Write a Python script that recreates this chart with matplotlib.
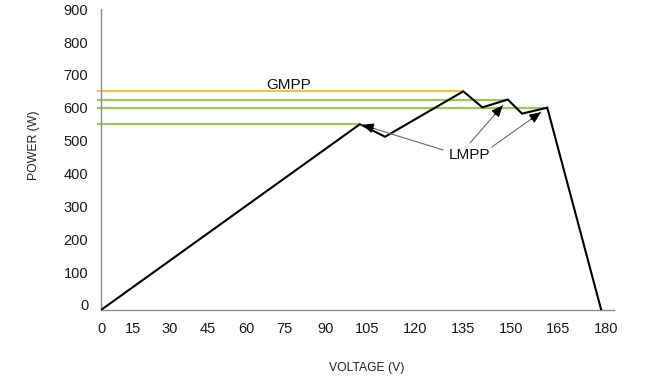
import numpy as np
import matplotlib
matplotlib.use("Agg")
import matplotlib.pyplot as plt
import matplotlib.transforms as mtransforms

plt.rcParams['font.family'] = ['Liberation Sans', 'DejaVu Sans']

# ---------------- data ----------------
VOLTAGE = [0, 102.5, 110.7, 135, 141, 149, 153.5, 161.5, 178.5]
POWER = [0, 550, 512, 650, 601, 625, 582, 600, 0]
GMPP_V, GMPP_P = 135, 650
LMPP_V = [102.5, 149, 161.5]
LMPP_P = [550, 625, 600]
X_TICKS = [0, 15, 30, 45, 60, 75, 90, 105, 120, 135, 150, 165, 180]
Y_TICKS = [0, 100, 200, 300, 400, 500, 600, 700, 800, 900]

# ------------- layout (pixel positions of the original drawing's ticks) -------------
X_TICK_PX = [101, 132.7, 169.3, 207.7, 246, 284.3, 326, 366.7, 415, 463.3, 511, 558.3, 606]
Y_TICK_PX = [310, 272.7, 239.7, 206.7, 173.7, 140.7, 107.7, 75, 42.3, 9.7]
W, H = 649, 386


def make_interp(xs, ys):
    xs = np.asarray(xs, float)
    ys = np.asarray(ys, float)
    s0 = (ys[1] - ys[0]) / (xs[1] - xs[0])
    s1 = (ys[-1] - ys[-2]) / (xs[-1] - xs[-2])

    def f(v):
        v = np.asarray(v, float)
        out = np.interp(v, xs, ys)
        out = np.where(v < xs[0], ys[0] + (v - xs[0]) * s0, out)
        out = np.where(v > xs[-1], ys[-1] + (v - xs[-1]) * s1, out)
        return out
    return f


xf = make_interp(X_TICKS, X_TICK_PX)
xi = make_interp(X_TICK_PX, X_TICKS)
ypx = [-p for p in Y_TICK_PX]
yf = make_interp(Y_TICKS, ypx)
yi = make_interp(ypx, Y_TICKS)

fig = plt.figure(figsize=(W / 100, H / 100), dpi=100)
left_px, right_px, top_px, bottom_px = 100.7, 614, 9, 310
ax = fig.add_axes([left_px / W, 1 - bottom_px / H,
                   (right_px - left_px) / W, (bottom_px - top_px) / H])
ax.set_xscale('function', functions=(xf, xi))
ax.set_yscale('function', functions=(yf, yi))
ax.set_xlim(float(xi(left_px)), float(xi(right_px)))
ax.set_ylim(0, float(yi(-top_px)))

orange = '#F6C232'
green = '#9CC85A'
line_start = float(xi(97))
ax.plot([line_start, GMPP_V], [GMPP_P, GMPP_P], color=orange, lw=1.5,
        solid_capstyle='butt', zorder=2, clip_on=False)
for v, p in zip(LMPP_V, LMPP_P):
    ax.plot([line_start, v], [p, p], color=green, lw=1.6, solid_capstyle='butt',
            zorder=2, clip_on=False)

ax.plot(VOLTAGE, POWER, color='black', lw=1.5, zorder=3, solid_joinstyle='miter')

ax.set_xticks(X_TICKS)
ax.set_xticklabels([str(t) for t in X_TICKS])
ax.set_yticks(Y_TICKS)
ax.set_yticklabels([str(t) for t in Y_TICKS])
ax.minorticks_off()
ax.tick_params(axis='x', length=0, pad=8.5, labelsize=10.5, labelcolor='#1a1a1a')
ax.tick_params(axis='y', length=0, pad=8.9, labelsize=10.5, labelcolor='#1a1a1a')
for s in ['top', 'right']:
    ax.spines[s].set_visible(False)
for s in ['left', 'bottom']:
    ax.spines[s].set_color('#8c8c8c')
    ax.spines[s].set_linewidth(1.0)

# the "0" label in the original sits a little above the axis line
zero_lbl = ax.get_yticklabels()[0]
zero_lbl.set_transform(zero_lbl.get_transform() +
                       mtransforms.ScaledTranslation(0, 5 / 100, fig.dpi_scale_trans))

# texts
ax.text(76.7, 656, 'GMPP', ha='center', va='baseline', fontsize=11, color='#111')
ax.text(137, 444, 'LMPP', ha='center', va='baseline', fontsize=11, color='#111')

# arrows from LMPP label to local peaks
starts = [(128.7, 472), (137.1, 493), (144, 481)]
shrinks = [1.5, 5.5, 5.5]
fig.canvas.draw()
for (sx, sy), v, p, sh in zip(starts, LMPP_V, LMPP_P, shrinks):
    ax.annotate('', xy=(v, p), xytext=(sx, sy),
                arrowprops=dict(arrowstyle='-', color='#6a6a6a', lw=0.8,
                                shrinkA=0, shrinkB=sh))
    a = ax.transData.transform((sx, sy))
    b = ax.transData.transform((v, p))
    d = a - b
    d = d / np.hypot(*d)
    off = d * (sh + 9)
    ax.annotate('', xy=(v, p), xytext=(off[0], off[1]), textcoords='offset points',
                arrowprops=dict(arrowstyle='-|>,head_length=0.7,head_width=0.3',
                                color='black', lw=0.8, shrinkA=0, shrinkB=sh))

fig.text(33.7 / W, 1 - 145 / H, 'POWER (W)', rotation=90, ha='center', va='center',
         fontsize=8.8, color='#222')
fig.text(366.7 / W, 1 - 370.5 / H, 'VOLTAGE (V)', ha='center', va='baseline',
         fontsize=8.7, color='#222')

fig.savefig('out.png', dpi=100)
